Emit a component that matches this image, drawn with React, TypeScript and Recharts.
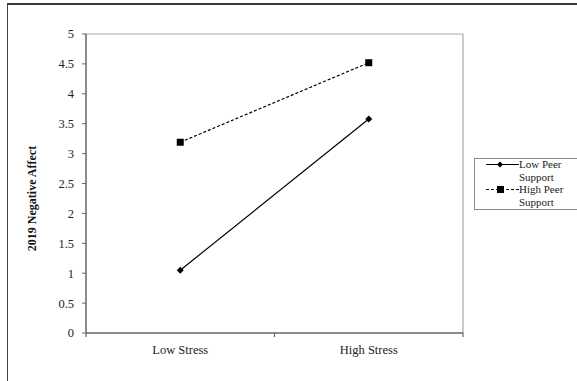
import React from "react";
import { LineChart, Line, XAxis, YAxis, ReferenceLine } from "recharts";

const categories = ["Low Stress", "High Stress"];
const lowPeerSupport = [1.05, 3.58];
const highPeerSupport = [3.19, 4.52];
const yTicks = [0, 0.5, 1, 1.5, 2, 2.5, 3, 3.5, 4, 4.5, 5];
const seriesNames = ["Low Peer Support", "High Peer Support"];

const data = categories.map((c, i) => ({
  pos: i + 0.5,
  name: c,
  low: lowPeerSupport[i],
  high: highPeerSupport[i],
}));

const FONT = '"Liberation Serif", "Times New Roman", serif';

const Diamond = (props: any) => {
  const { cx, cy } = props;
  if (cx == null || cy == null) return null;
  const r = 3.5;
  return (
    <polygon
      points={`${cx},${cy - r} ${cx + r},${cy} ${cx},${cy + r} ${cx - r},${cy}`}
      fill="#000"
    />
  );
};

const Square = (props: any) => {
  const { cx, cy } = props;
  if (cx == null || cy == null) return null;
  const s = 7;
  return <rect x={cx - s / 2} y={cy - s / 2} width={s} height={s} fill="#000" />;
};

const XTick = (props: any) => {
  const { x, y, payload } = props;
  const v = payload.value;
  if (Number.isInteger(v)) {
    return <line x1={x} x2={x} y1={y} y2={y + 4} stroke="#666" strokeWidth={1.2} />;
  }
  const idx = Math.floor(v);
  return (
    <text x={x} y={y + 21} textAnchor="middle" fontFamily={FONT} fontSize={12.5} fill="#222">
      {categories[idx]}
    </text>
  );
};

const LegendBox = () => {
  const rows = [
    { name: seriesNames[0], dashed: false, marker: "diamond" },
    { name: seriesNames[1], dashed: true, marker: "square" },
  ];
  return (
    <div
      style={{
        position: "absolute",
        left: 474,
        top: 158,
        border: "1px solid #8a8a8a",
        width: 110,
        height: 52,
        boxSizing: "border-box",
        fontFamily: FONT,
        fontSize: 11,
        lineHeight: "13px",
        color: "#222",
        background: "#fff",
      }}
    >
      {rows.map((r) => (
        <div key={r.name} style={{ display: "flex", alignItems: "flex-start" }}>
          <svg width={44} height={13} style={{ flex: "0 0 44px" }}>
            <line
              x1={11}
              x2={44}
              y1={5.5}
              y2={5.5}
              stroke="#000"
              strokeWidth={1.2}
              strokeDasharray={r.dashed ? "3 2" : undefined}
            />
            {r.marker === "diamond" ? (
              <polygon points="25,2.5 28,5.5 25,8.5 22,5.5" fill="#000" />
            ) : (
              <rect x={22} y={2} width={7} height={7} fill="#000" />
            )}
          </svg>
          <div style={{ width: 52, marginTop: -1 }}>{r.name}</div>
        </div>
      ))}
    </div>
  );
};

export default function App() {
  return (
    <div style={{ position: "absolute", left: 0, top: 0, width: 577, height: 381, background: "#fff" }}>
      <div style={{ position: "absolute", left: 0, top: 0 }}>
        <LineChart
          width={577}
          height={381}
          data={data}
          margin={{ top: 34, right: 114, bottom: 18, left: 0 }}
        >
          <XAxis
            dataKey="pos"
            type="number"
            domain={[0, 2]}
            ticks={[0, 0.5, 1, 1.5, 2]}
            tick={<XTick />}
            tickLine={false}
            tickSize={0}
            tickMargin={0}
            axisLine={{ stroke: "#666", strokeWidth: 1.5 }}
            height={30}
            interval={0}
          />
          <YAxis
            type="number"
            domain={[0, 5]}
            ticks={yTicks}
            interval={0}
            width={86}
            tickSize={4}
            tickMargin={8}
            tickLine={{ stroke: "#666" }}
            axisLine={{ stroke: "#666", strokeWidth: 1.5 }}
            tick={{ fontFamily: FONT, fontSize: 12.5, fill: "#222" }}
            label={{
              value: "2019 Negative Affect",
              angle: -90,
              position: "insideLeft",
              dx: 27,
              dy: 15,
              style: { fontFamily: FONT, fontSize: 12, fontWeight: "bold", fill: "#111", textAnchor: "middle" },
            }}
          />
          <ReferenceLine y={5} stroke="#a8a8a8" strokeWidth={1.2} />
          <ReferenceLine x={2} stroke="#a8a8a8" strokeWidth={1.2} />
          <Line
            name={seriesNames[0]}
            dataKey="low"
            stroke="#000"
            strokeWidth={1.2}
            dot={<Diamond />}
            activeDot={false}
            isAnimationActive={false}
          />
          <Line
            name={seriesNames[1]}
            dataKey="high"
            stroke="#000"
            strokeWidth={1.2}
            strokeDasharray="3 2"
            dot={<Square />}
            activeDot={false}
            isAnimationActive={false}
          />
        </LineChart>
      </div>
      <LegendBox />
      <div
        style={{
          position: "absolute",
          left: 7,
          top: 3,
          width: 570,
          height: 378,
          boxSizing: "border-box",
          borderTop: "2px solid #3a3a3a",
          borderLeft: "1px solid #444",
          pointerEvents: "none",
        }}
      />
    </div>
  );
}
